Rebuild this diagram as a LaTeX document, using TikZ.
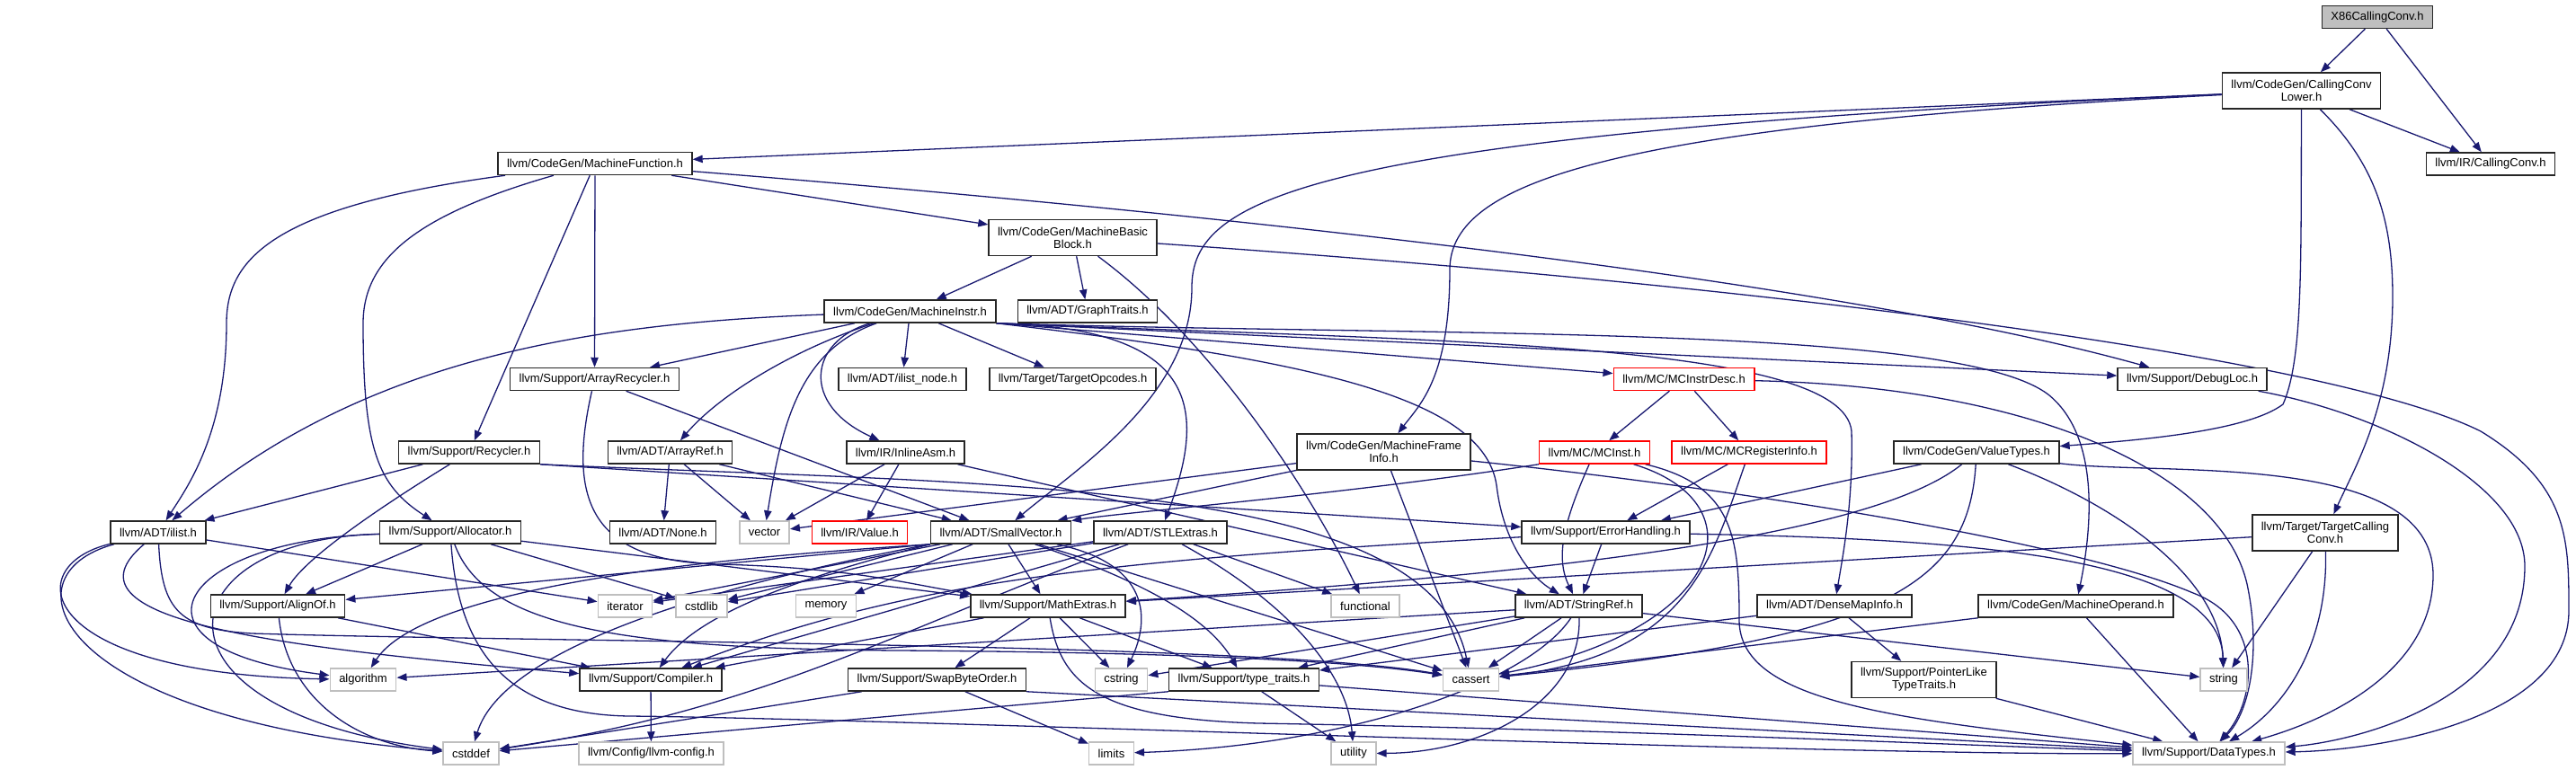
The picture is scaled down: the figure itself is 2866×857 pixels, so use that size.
\documentclass[tikz,border=0pt]{standalone}
\usepackage{fontspec}
\setmainfont{Liberation Sans}
\usetikzlibrary{arrows.meta}
\definecolor{depblue}{HTML}{191970}
\definecolor{sysgray}{HTML}{BFBFBF}
\pgfdeclarelayer{edges}
\pgfsetlayers{edges,main}
\tikzset{
  hdr/.style={draw=black!85, line width=0.75pt, fill=white, inner xsep=5pt, inner ysep=0.5pt,
    minimum height=12.5pt, align=center, font=\fontsize{6.5pt}{7pt}\selectfont},
  sys/.style={hdr, draw=sysgray},
  trunc/.style={hdr, draw=red},
  root/.style={hdr, fill=sysgray},
  tall/.style={minimum height=20pt},
  dep/.style={draw=depblue, line width=0.65pt, -{Triangle[length=5.5pt,width=4.2pt]}},
}
\begin{document}
\begin{tikzpicture}[x=0.5pt,y=-0.5pt]
  \useasboundingbox (0,0) rectangle (2866,857);

  % Top rows
  \node[root] (x86) at (2645,19) {X86CallingConv.h};
  \node[hdr,tall] (ccl) at (2560.5,101) {llvm/CodeGen/CallingConv\\Lower.h};
  \node[hdr] (cc) at (2771,182.5) {llvm/IR/CallingConv.h};
  \node[hdr] (mf) at (662,182) {llvm/CodeGen/MachineFunction.h};
  \node[hdr,tall] (mbb) at (1193.5,264.5) {llvm/CodeGen/MachineBasic\\Block.h};
  \node[hdr] (mi) at (1012.5,346.5) {llvm/CodeGen/MachineInstr.h};
  \node[hdr] (gt) at (1210,346.5) {llvm/ADT/GraphTraits.h};
  \node[hdr] (ar) at (661.5,422) {llvm/Support/ArrayRecycler.h};
  \node[hdr] (iln) at (1004,422) {llvm/ADT/ilist\_node.h};
  \node[hdr] (topc) at (1193.5,422) {llvm/Target/TargetOpcodes.h};
  \node[trunc] (mcid) at (1873.5,422) {llvm/MC/MCInstrDesc.h};
  \node[hdr] (dl) at (2439,422) {llvm/Support/DebugLoc.h};

  % Middle rows
  \node[hdr] (rec) at (522,503.5) {llvm/Support/Recycler.h};
  \node[hdr] (aref) at (745.5,503.5) {llvm/ADT/ArrayRef.h};
  \node[hdr] (ia) at (1007.5,503.5) {llvm/IR/InlineAsm.h};
  \node[hdr,tall] (mfi) at (1539.5,503) {llvm/CodeGen/MachineFrame\\Info.h};
  \node[trunc] (mcinst) at (1774,503.5) {llvm/MC/MCInst.h};
  \node[trunc] (mcri) at (1946,503.5) {llvm/MC/MCRegisterInfo.h};
  \node[hdr] (vt) at (2199,503.5) {llvm/CodeGen/ValueTypes.h};
  \node[hdr] (ilist) at (176,592.5) {llvm/ADT/ilist.h};
  \node[hdr] (alloc) at (501,592.5) {llvm/Support/Allocator.h};
  \node[hdr] (nonehdr) at (737.5,592.5) {llvm/ADT/None.h};
  \node[sys] (vector) at (850.5,592.5) {vector};
  \node[trunc] (val) at (956.5,592.5) {llvm/IR/Value.h};
  \node[hdr] (sv) at (1113.5,592.5) {llvm/ADT/SmallVector.h};
  \node[hdr] (stl) at (1291,592.5) {llvm/ADT/STLExtras.h};
  \node[hdr] (eh) at (1786.5,592.5) {llvm/Support/ErrorHandling.h};
  \node[hdr,tall] (tcc) at (2587,593) {llvm/Target/TargetCalling\\Conv.h};
  \node[hdr] (alignof) at (309,674.5) {llvm/Support/AlignOf.h};
  \node[sys] (iterator) at (695.5,674.5) {iterator};
  \node[sys] (cstdlib) at (780.5,674.5) {cstdlib};
  \node[sys] (memory) at (919,674.5) {memory};
  \node[hdr] (me) at (1166,674.5) {llvm/Support/MathExtras.h};
  \node[sys] (functional) at (1519,674.5) {functional};
  \node[hdr] (sr) at (1756.5,674.5) {llvm/ADT/StringRef.h};
  \node[hdr] (dmi) at (2041,674.5) {llvm/ADT/DenseMapInfo.h};
  \node[hdr] (mo) at (2309.5,674.5) {llvm/CodeGen/MachineOperand.h};

  % Bottom rows
  \node[sys] (algorithm) at (404,756.5) {algorithm};
  \node[hdr] (comp) at (724,756.5) {llvm/Support/Compiler.h};
  \node[hdr] (sbo) at (1042.5,756.5) {llvm/Support/SwapByteOrder.h};
  \node[sys] (cstring) at (1247.5,756.5) {cstring};
  \node[hdr] (tt) at (1384,756.5) {llvm/Support/type\_traits.h};
  \node[sys] (cassert) at (1636.5,756.5) {cassert};
  \node[hdr,tall] (pltt) at (2140.5,756.5) {llvm/Support/PointerLike\\TypeTraits.h};
  \node[sys] (string) at (2474,756.5) {string};
  \node[sys] (cstddef) at (524,838.5) {cstddef};
  \node[sys] (config) at (724.5,838.5) {llvm/Config/llvm-config.h};
  \node[sys] (limits) at (1236.5,838.5) {limits};
  \node[sys] (utility) at (1506,838.5) {utility};
  \node[sys] (dt) at (2457.5,838.5) {llvm/Support/DataTypes.h};

  \begin{pgfonlayer}{edges}
  % Straight includes
  \foreach \a/\b in {x86/ccl, x86/cc, ccl/cc, ccl/mf, mf/mbb, mf/rec, mf/ar, mbb/gt, mbb/mi,
      mi/ar, mi/iln, mi/topc, mcid/mcinst, mcid/mcri, ar/sv, rec/ilist, aref/nonehdr,
      aref/vector, aref/sv, ia/vector, ia/val, ia/sr, mfi/vector, mfi/sv, mfi/cassert,
      mcri/eh, vt/eh, ilist/iterator, alloc/alignof, alloc/cstdlib, alloc/me, sv/iterator,
      sv/cstdlib, sv/memory, sv/me, sv/cassert, stl/functional, stl/iterator, stl/cstdlib,
      stl/comp, eh/sr, tcc/string, tcc/me, sr/algorithm, sr/cstring, sr/tt, sr/cassert,
      sr/string, dmi/pltt, dmi/tt, mo/cassert, mo/dt, pltt/dt, me/comp, me/sbo, me/cstring,
      me/tt, sbo/limits, sbo/cstddef, tt/utility, tt/dt, alignof/comp, comp/config}
    \draw[dep] (\a) -- (\b);
  \draw[dep] (mi.south east) -- (mcid);
  \draw[dep] (mi.south east) -- (dl);
  \draw[dep] (rec.south east) -- (eh);
  \draw[dep] (sv.south west) -- (alignof);
  \draw[dep] (sbo.south east) -- (dt);
  \draw[dep] (tt.south west) -- (cstddef);

  % Routed includes
  \draw[dep] (ccl) .. controls (1450,150) and (1326,220) .. (1326,320) .. controls (1326,440) and (1200,520) .. (sv);
  \draw[dep] (ccl) .. controls (1800,140) and (1613,200) .. (1613,300) .. controls (1613,420) and (1580,450) .. (mfi);
  \draw[dep] (ccl) .. controls (2560,300) and (2562,400) .. (2540,450) .. controls (2500,480) and (2380,490) .. (vt);
  \draw[dep] (ccl) .. controls (2640,180) and (2662,240) .. (2662,330) .. controls (2662,450) and (2620,520) .. (tcc);
  \draw[dep] (mf) .. controls (300,230) and (252,290) .. (252,360) .. controls (252,480) and (210,540) .. (ilist);
  \draw[dep] (mf) .. controls (460,240) and (404,290) .. (404,360) .. controls (404,500) and (420,540) .. (alloc);
  \draw[dep] (mf) .. controls (1200,225) and (2000,300) .. (dl);
  \draw[dep] (mbb) .. controls (1350,380) and (1460,550) .. (functional);
  \draw[dep] (mbb) .. controls (2000,320) and (2600,400) .. (2760,480) .. controls (2858,540) and (2858,600) .. (2858,680) .. controls (2858,800) and (2650,835) .. (dt);
  \draw[dep] (mi) .. controls (650,360) and (400,400) .. (ilist);
  \draw[dep] (mi) .. controls (880,390) and (800,440) .. (aref);
  \draw[dep] (mi) .. controls (900,380) and (890,450) .. (ia);
  \draw[dep] (mi) .. controls (890,390) and (870,470) .. (vector);
  \draw[dep] (mi.south east) .. controls (1330,365) and (1345,450) .. (stl);
  \draw[dep] (mi.south east) .. controls (1450,400) and (1650,440) .. (1665,540) .. controls (1672,600) and (1700,640) .. (sr);
  \draw[dep] (mi.south east) .. controls (1600,380) and (2050,380) .. (2060,480) .. controls (2062,560) and (2050,620) .. (dmi);
  \draw[dep] (mi.south east) .. controls (1600,375) and (2180,360) .. (2280,440) .. controls (2340,490) and (2325,600) .. (mo);
  \draw[dep] (mcid) .. controls (2250,430) and (2470,520) .. (2500,650) .. controls (2515,720) and (2505,790) .. (dt);
  \draw[dep] (ar) .. controls (630,560) and (660,625) .. (800,628) .. controls (950,632) and (1010,650) .. (me);
  \draw[dep] (rec) .. controls (430,560) and (340,620) .. (alignof);
  \draw[dep] (rec.south east) .. controls (1100,540) and (1590,530) .. (cassert);
  \draw[dep] (mfi) .. controls (1900,540) and (2300,600) .. (2440,660) .. controls (2520,690) and (2510,780) .. (dt);
  \draw[dep] (mcinst.south west) .. controls (1500,550) and (1250,570) .. (sv);
  \draw[dep] (mcinst) .. controls (1740,580) and (1730,620) .. (sr);
  \draw[dep] (mcinst) .. controls (1960,560) and (1920,700) .. (cassert);
  \draw[dep] (mcinst) .. controls (1930,540) and (1935,600) .. (1935,690) .. controls (1935,780) and (2100,800) .. (dt);
  \draw[dep] (mcri) .. controls (1905,620) and (1880,730) .. (cassert);
  \draw[dep] (vt) .. controls (2080,600) and (1700,640) .. (me);
  \draw[dep] (vt) .. controls (2190,650) and (2100,710) .. (cassert);
  \draw[dep] (vt) .. controls (2350,560) and (2470,640) .. (string);
  \draw[dep] (vt) .. controls (2400,530) and (2707,500) .. (2707,640) .. controls (2707,760) and (2560,810) .. (dt);
  \draw[dep] (dl) .. controls (2650,460) and (2809,540) .. (2809,630) .. controls (2809,780) and (2620,825) .. (dt);
  \draw[dep] (tcc) .. controls (2590,720) and (2540,790) .. (dt);
  \draw[dep] (eh) .. controls (2200,600) and (2470,620) .. (string);
  \draw[dep] (eh) .. controls (1200,625) and (1000,650) .. (comp);
  \draw[dep] (ilist) .. controls (20,630) and (40,750) .. (algorithm);
  \draw[dep] (ilist) .. controls (0,640) and (60,800) .. (cstddef);
  \draw[dep] (ilist) .. controls (60,690) and (300,720) .. (comp);
  \draw[dep] (ilist) .. controls (180,680) and (200,700) .. (280,705) .. controls (600,715) and (1400,715) .. (cassert);
  \draw[dep] (alloc) .. controls (200,600) and (120,720) .. (algorithm);
  \draw[dep] (alloc) .. controls (180,600) and (150,790) .. (cstddef);
  \draw[dep] (alloc) .. controls (540,700) and (700,722) .. (1000,724) .. controls (1300,726) and (1500,735) .. (cassert);
  \draw[dep] (alloc) .. controls (510,720) and (560,795) .. (700,797) .. controls (1000,800) and (2000,840) .. (dt);
  \draw[dep] (sv.south west) .. controls (900,615) and (480,640) .. (algorithm);
  \draw[dep] (sv.south west) .. controls (800,650) and (560,720) .. (cstddef);
  \draw[dep] (sv.south west) .. controls (900,640) and (780,680) .. (comp);
  \draw[dep] (sv) .. controls (1250,640) and (1340,680) .. (tt);
  \draw[dep] (sv) .. controls (1290,630) and (1275,700) .. (cstring);
  \draw[dep] (stl) .. controls (1450,680) and (1500,760) .. (utility);
  \draw[dep] (stl) .. controls (1000,700) and (850,790) .. (cstddef);
  \draw[dep] (alignof) .. controls (320,780) and (400,830) .. (cstddef);
  \draw[dep] (me) .. controls (1180,760) and (1220,800) .. (1400,805) .. controls (1800,812) and (2200,830) .. (dt);
  \draw[dep] (sr) .. controls (1700,760) and (1500,830) .. (limits);
  \draw[dep] (sr) .. controls (1760,780) and (1650,838) .. (utility);
  \end{pgfonlayer}
\end{tikzpicture}
\end{document}
